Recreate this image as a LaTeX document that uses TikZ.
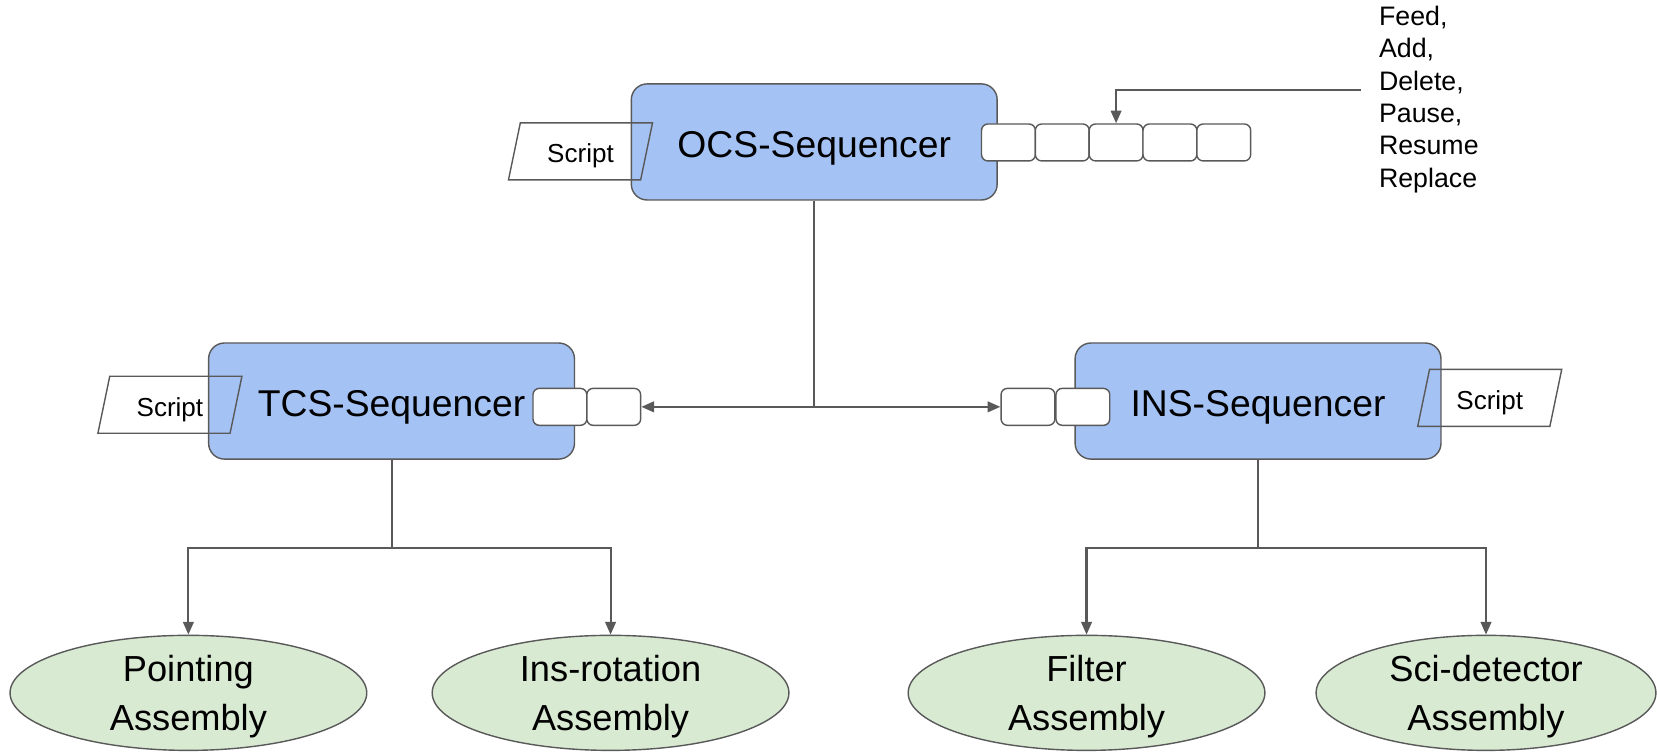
\documentclass[tikz,border=0pt]{standalone}
\usepackage{fontspec}
\setmainfont{Liberation Sans}
\usetikzlibrary{arrows.meta,shapes.geometric}
\definecolor{seqblue}{HTML}{A4C2F4}
\definecolor{asmgreen}{HTML}{D9EAD3}
\definecolor{edge}{HTML}{595959}
\tikzset{
  seq/.style={draw=edge,fill=seqblue,rounded corners=4.5pt,minimum width=104pt,minimum height=33pt,
    text height=9pt,text depth=0pt,font=\fontsize{10.6pt}{12pt}\selectfont},
  cell/.style={draw=edge,fill=white,rounded corners=1.8pt,minimum width=15.3pt,minimum height=10.5pt,inner sep=0pt},
  script/.style={draw=edge,trapezium,trapezium left angle=74,trapezium right angle=106,trapezium stretches=true,
    minimum width=41pt,minimum height=16.2pt,inner sep=0pt,text height=6.5pt,text depth=0pt,
    font=\fontsize{7.4pt}{9pt}\selectfont},
  asm/.style={draw=edge,fill=asmgreen,ellipse,minimum width=101.4pt,minimum height=32.7pt,inner sep=0pt,align=center,
    text depth=-1.5pt,font=\fontsize{10.3pt}{14pt}\selectfont},
  link/.style={draw=edge,line width=0.6pt},
  arr/.style={link,-{Triangle[length=3.6pt,width=3pt]}}
}
\begin{document}
\begin{tikzpicture}[x=0.3pt,y=-0.3pt]
\useasboundingbox (0,0) rectangle (1570,712);

\node[seq] (ocs) at (771.5,134.5) {OCS-Sequencer};
\node[seq] (tcs) at (371,380) {TCS-Sequencer};
\node[seq] (ins) at (1192,380) {INS-Sequencer};

\foreach \i in {1,...,5} \node[cell] (ocsq\i) at ({904.5+51*\i},135) {};
\foreach \i in {1,2} \node[cell] (tcsq\i) at ({479.5+51*\i},385.5) {};
\foreach \i in {1,2} \node[cell] (insq\i) at ({922+52*\i},385.5) {};

\node[script] (ocsscript) at (550,143.5) {Script};
\node[script] (tcsscript) at (161,383.5) {Script};
\node[script] (insscript) at (1411.5,377) {Script};

\node[anchor=north west,align=left,inner sep=0pt,font=\fontsize{7.6pt}{9.2pt}\selectfont] (cmds) at (1306,5)
  {Feed,\\Add,\\Delete,\\Pause,\\Resume\\Replace};
\coordinate (cmdin) at (1290,85.5);
\draw[arr] (cmdin) -| (ocsq3.north);

\coordinate (ocssplit) at (771.5,385.5);
\draw[link] (ocs.south) -- (ocssplit);
\draw[arr] (ocssplit) -- (tcsq2.east);
\draw[arr] (ocssplit) -- (insq1.west);

\node[asm] (pa) at (178.5,656.5) {Pointing\\Assembly};
\node[asm] (ira) at (578.5,656.5) {Ins-rotation\\Assembly};
\node[asm] (fa) at (1029.5,656.5) {Filter\\Assembly};
\node[asm,minimum width=96.6pt] (sda) at (1408,656.5) {Sci-detector\\Assembly};

\coordinate (tcssplit) at (371,519);
\coordinate (inssplit) at (1192,519);
\draw[link] (tcs.south) -- (tcssplit);
\draw[arr] (tcssplit) -| (pa.north);
\draw[arr] (tcssplit) -| (ira.north);
\draw[link] (ins.south) -- (inssplit);
\draw[arr] (inssplit) -| (fa.north);
\draw[arr] (inssplit) -| (sda.north);
\end{tikzpicture}
\end{document}
